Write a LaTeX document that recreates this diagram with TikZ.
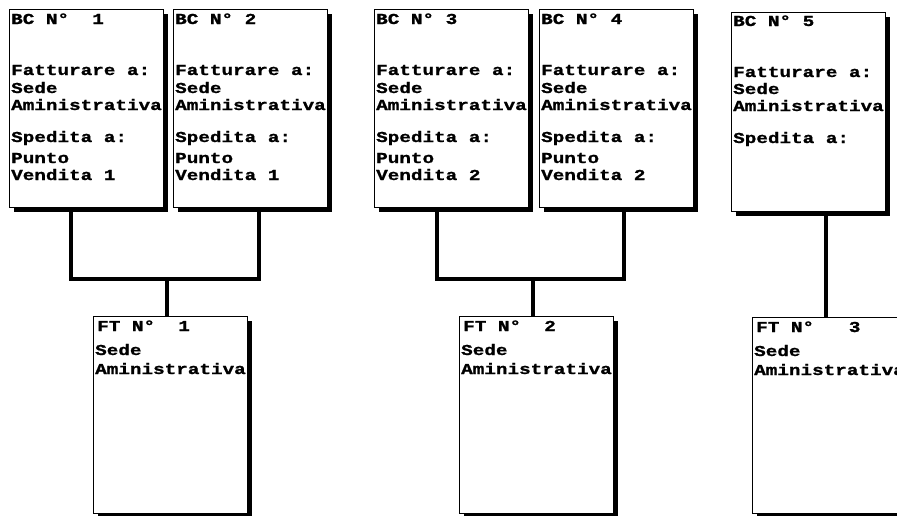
\documentclass[tikz,border=0pt]{standalone}
\usepackage{fontspec}
\usetikzlibrary{shadows}
\newfontfamily\bmfont[FakeStretch=1.27,FakeBold=1.2]{Liberation Mono}
\begin{document}
\begin{tikzpicture}[x=1pt,y=-1pt,
  doc/.style={draw=black, line width=1pt, fill=white, anchor=north west, inner sep=0pt,
    minimum width=154pt, minimum height=198pt,
    general shadow={fill=black, shadow xshift=4pt, shadow yshift=-4pt}},
  txt/.style={anchor=base west, inner sep=0pt, font=\bmfont\bfseries\fontsize{15.2}{17}\selectfont},
  conn/.style={draw=black, line width=4pt}]
\clip (0,0) rectangle (897,515);
\fill[white] (0,0) rectangle (897,515);
% BC boxes
\node[doc] (bc1) at (9,9) {};
\node[doc] (bc2) at (173,9) {};
\node[doc] (bc3) at (374,9) {};
\node[doc] (bc4) at (539,9) {};
\node[doc, minimum height=199pt] (bc5) at (731,12) {};
% FT boxes
\node[doc, minimum height=197pt] (ft1) at (93,316) {};
\node[doc, minimum height=197pt] (ft2) at (459,316) {};
\node[doc, minimum height=196pt] (ft3) at (752,317) {};
% texts BC1
\node[txt] (t11) at (11,24) {BC N°~~1};
\node[txt] (t12) at (11,75) {Fatturare a:};
\node[txt] (t13) at (11,93) {Sede};
\node[txt] (t14) at (11,110) {Aministrativa};
\node[txt] (t15) at (11,142) {Spedita a:};
\node[txt] (t16) at (11,163) {Punto};
\node[txt] (t17) at (11,180) {Vendita 1};
% texts BC2
\node[txt] (t21) at (175,24) {BC N°~2};
\node[txt] (t22) at (175,75) {Fatturare a:};
\node[txt] (t23) at (175,93) {Sede};
\node[txt] (t24) at (175,110) {Aministrativa};
\node[txt] (t25) at (175,142) {Spedita a:};
\node[txt] (t26) at (175,163) {Punto};
\node[txt] (t27) at (175,180) {Vendita 1};
% texts BC3
\node[txt] (t31) at (376,24) {BC N°~3};
\node[txt] (t32) at (376,75) {Fatturare a:};
\node[txt] (t33) at (376,93) {Sede};
\node[txt] (t34) at (376,110) {Aministrativa};
\node[txt] (t35) at (376,142) {Spedita a:};
\node[txt] (t36) at (376,163) {Punto};
\node[txt] (t37) at (376,180) {Vendita 2};
% texts BC4
\node[txt] (t41) at (541,24) {BC N°~4};
\node[txt] (t42) at (541,75) {Fatturare a:};
\node[txt] (t43) at (541,93) {Sede};
\node[txt] (t44) at (541,110) {Aministrativa};
\node[txt] (t45) at (541,142) {Spedita a:};
\node[txt] (t46) at (541,163) {Punto};
\node[txt] (t47) at (541,180) {Vendita 2};
% texts BC5
\node[txt] (t51) at (733,26) {BC N°~5};
\node[txt] (t52) at (733,77) {Fatturare a:};
\node[txt] (t53) at (733,94) {Sede};
\node[txt] (t54) at (733,111) {Aministrativa};
\node[txt] (t55) at (733,143) {Spedita a:};
% texts FT
\node[txt] (f11) at (97,331) {FT N°~~1};
\node[txt] (f12) at (95,355) {Sede};
\node[txt] (f13) at (95,374) {Aministrativa};
\node[txt] (f21) at (463,331) {FT N°~~2};
\node[txt] (f22) at (461,355) {Sede};
\node[txt] (f23) at (461,374) {Aministrativa};
\node[txt] (f31) at (756,332) {FT N°~~~3};
\node[txt] (f32) at (754,356) {Sede};
\node[txt] (f33) at (754,375) {Aministrativa};
% connectors
\coordinate (j1) at (167,279);
\coordinate (j2) at (533,279);
\draw[conn] ([xshift=62pt,yshift=-4pt]bc1.south west) |- (j1) -| ([xshift=86pt,yshift=-4pt]bc2.south west);
\draw[conn] (j1) -- (j1 |- ft1.north);
\draw[conn] ([xshift=63pt,yshift=-4pt]bc3.south west) |- (j2) -| ([xshift=85pt,yshift=-4pt]bc4.south west);
\draw[conn] (j2) -- (j2 |- ft2.north);
\draw[conn] ([xshift=95pt,yshift=-4pt]bc5.south west) -- ([xshift=74pt]ft3.north west);
\end{tikzpicture}
\end{document}
